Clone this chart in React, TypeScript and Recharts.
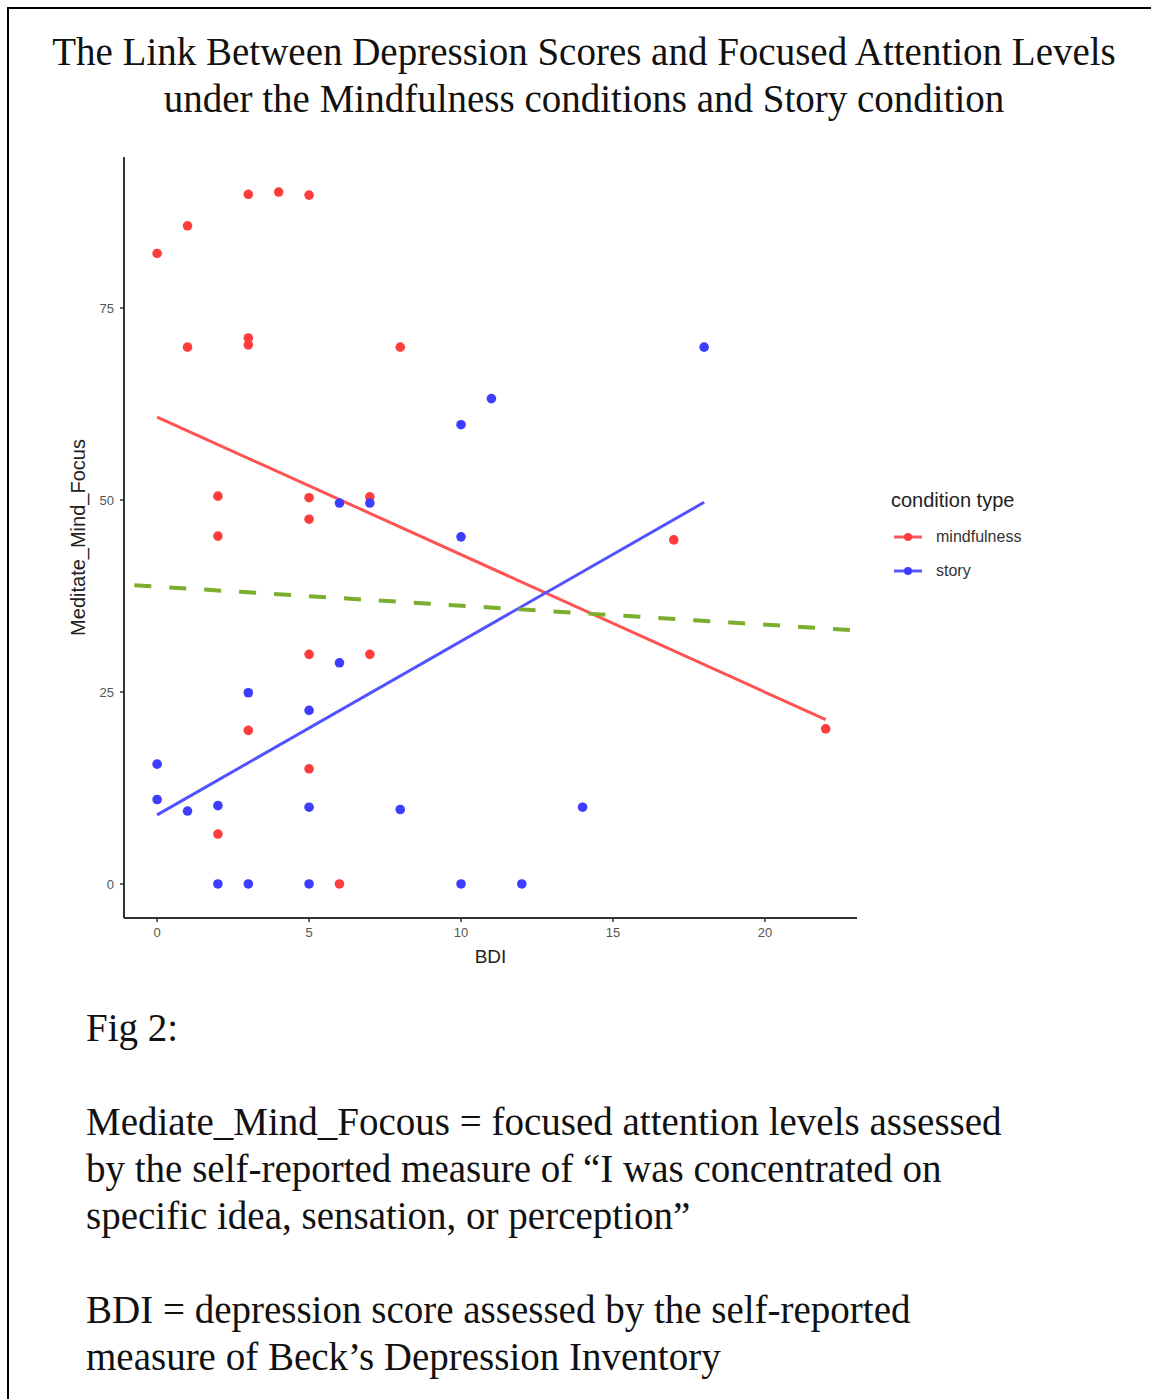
import React from "react";
import {
  ScatterChart,
  Scatter,
  XAxis,
  YAxis,
  ReferenceLine,
} from "recharts";

// BDI vs Meditate_Mind_Focus
const mindBDI = [0, 1, 3, 4, 5, 1, 3, 3, 8, 2, 2, 5, 5, 7, 5, 7, 3, 5, 2, 6, 17, 22];
const mindFocus = [82.1, 85.7, 89.8, 90.1, 89.7, 69.9, 71.1, 70.2, 69.9, 50.5, 45.3, 50.3, 47.5, 50.4, 29.9, 29.9, 20, 15, 6.5, 0, 44.8, 20.2];

const storyBDI = [6, 7, 10, 11, 18, 10, 6, 3, 5, 0, 0, 1, 2, 5, 8, 14, 2, 3, 5, 10, 12];
const storyFocus = [49.6, 49.6, 59.8, 63.2, 69.9, 45.2, 28.8, 24.9, 22.6, 15.6, 11, 9.5, 10.2, 10, 9.7, 10, 0, 0, 0, 0, 0];

// fitted lines (endpoints)
const mindFit = [{ x: 0, y: 60.8 }, { x: 22, y: 21.4 }];
const storyFit = [{ x: 0, y: 9.0 }, { x: 18, y: 49.7 }];
const overallFit = [{ x: -0.75, y: 38.9 }, { x: 23.5, y: 32.9 }];

const xTicks = [0, 5, 10, 15, 20];
const yTicks = [0, 25, 50, 75];

const conditions = ["mindfulness", "story"];

const RED = "#FF3D3D";
const BLUE = "#3D3DFF";
const RED_LINE = "#FF5252";
const BLUE_LINE = "#5252FF";
const GREEN = "#7AAE2C";
const SANS = "'Liberation Sans', Arial, sans-serif";
const SERIF = "'Liberation Serif', 'Times New Roman', serif";

const toPoints = (xs: number[], ys: number[]) => xs.map((x, i) => ({ x, y: ys[i] }));

const mindData = toPoints(mindBDI, mindFocus);
const storyData = toPoints(storyBDI, storyFocus);
const legendColors = [RED, BLUE];

function LegendBox() {
  return (
    <div style={{ position: "absolute", left: 891, top: 488, fontFamily: SANS, color: "#222" }}>
      <div style={{ fontSize: 20, lineHeight: "24px" }}>condition type</div>
      <div style={{ marginTop: 8 }}>
        {conditions.map((name, i) => (
          <div key={name} style={{ display: "flex", alignItems: "center", height: 34 }}>
            <svg width={30} height={14} style={{ marginLeft: 2 }}>
              <line x1={1} y1={7} x2={29} y2={7} stroke={legendColors[i]} strokeWidth={3} opacity={0.85} />
              <circle cx={15} cy={7} r={4} fill={legendColors[i]} />
            </svg>
            <span style={{ fontSize: 16, marginLeft: 13, color: "#333" }}>{name}</span>
          </div>
        ))}
      </div>
    </div>
  );
}

const dot = (color: string) => (p: any) => <circle cx={p.cx} cy={p.cy} r={4.8} fill={color} />;

export default function App() {
  return (
    <div style={{ position: "absolute", left: 0, top: 0, width: 1151, height: 1399, background: "#fff", overflow: "hidden" }}>
      <div
        style={{
          position: "absolute",
          left: 7,
          top: 7,
          width: 1150,
          height: 1400,
          borderTop: "2px solid #000",
          borderLeft: "2px solid #000",
        }}
      />
      <div
        style={{
          position: "absolute",
          left: 0,
          top: 28,
          width: 1168,
          textAlign: "center",
          fontFamily: SERIF,
          fontSize: 39,
          lineHeight: "47px",
          color: "#111",
        }}
      >
        The Link Between Depression Scores and Focused Attention Levels
        <br />
        under the Mindfulness conditions and Story condition
      </div>

      <div style={{ position: "absolute", left: 0, top: 140 }}>
        <ScatterChart width={1151} height={838} margin={{ top: 17, right: 294, bottom: 0, left: 60 }}>
          <XAxis
            type="number"
            dataKey="x"
            domain={[-1.09, 23.03]}
            ticks={xTicks}
            allowDataOverflow
            height={60}
            tickSize={4}
            tickMargin={6}
            axisLine={{ stroke: "#333", strokeWidth: 2 }}
            tickLine={{ stroke: "#333", strokeWidth: 1.5 }}
            tick={{ fill: "#555", fontSize: 13, fontFamily: SANS }}
            label={{ value: "BDI", position: "insideTop", offset: 32, fill: "#222", fontSize: 19, fontFamily: SANS }}
          />
          <YAxis
            type="number"
            dataKey="y"
            domain={[-4.43, 94.66]}
            ticks={yTicks}
            allowDataOverflow
            width={64}
            tickSize={4}
            tickMargin={6}
            axisLine={{ stroke: "#333", strokeWidth: 2 }}
            tickLine={{ stroke: "#333", strokeWidth: 1.5 }}
            tick={{ fill: "#555", fontSize: 13, fontFamily: SANS }}
            label={{
              value: "Meditate_Mind_Focus",
              angle: -90,
              position: "insideLeft",
              offset: 18,
              fill: "#222",
              fontSize: 20,
              fontFamily: SANS,
              style: { textAnchor: "middle" },
            }}
          />
          <Scatter name="mindfulness" data={mindData} fill={RED} isAnimationActive={false} shape={dot(RED)} />
          <Scatter name="story" data={storyData} fill={BLUE} isAnimationActive={false} shape={dot(BLUE)} />
          <ReferenceLine segment={mindFit} stroke={RED_LINE} strokeWidth={3} ifOverflow="hidden" />
          <ReferenceLine segment={storyFit} stroke={BLUE_LINE} strokeWidth={3} ifOverflow="hidden" />
          <ReferenceLine segment={overallFit} stroke={GREEN} strokeWidth={4} strokeDasharray="17 18" ifOverflow="hidden" />
        </ScatterChart>
      </div>
      <LegendBox />

      <div
        style={{
          position: "absolute",
          left: 86,
          top: 1004,
          fontFamily: SERIF,
          fontSize: 39,
          lineHeight: "47px",
          color: "#111",
          whiteSpace: "nowrap",
        }}
      >
        <div>Fig 2:</div>
        <div>&nbsp;</div>
        <div>Mediate_Mind_Focous = focused attention levels assessed</div>
        <div>by the self-reported measure of “I was concentrated on</div>
        <div>specific idea, sensation, or perception”</div>
        <div>&nbsp;</div>
        <div>BDI = depression score assessed by the self-reported</div>
        <div>measure of Beck’s Depression Inventory</div>
      </div>
    </div>
  );
}
